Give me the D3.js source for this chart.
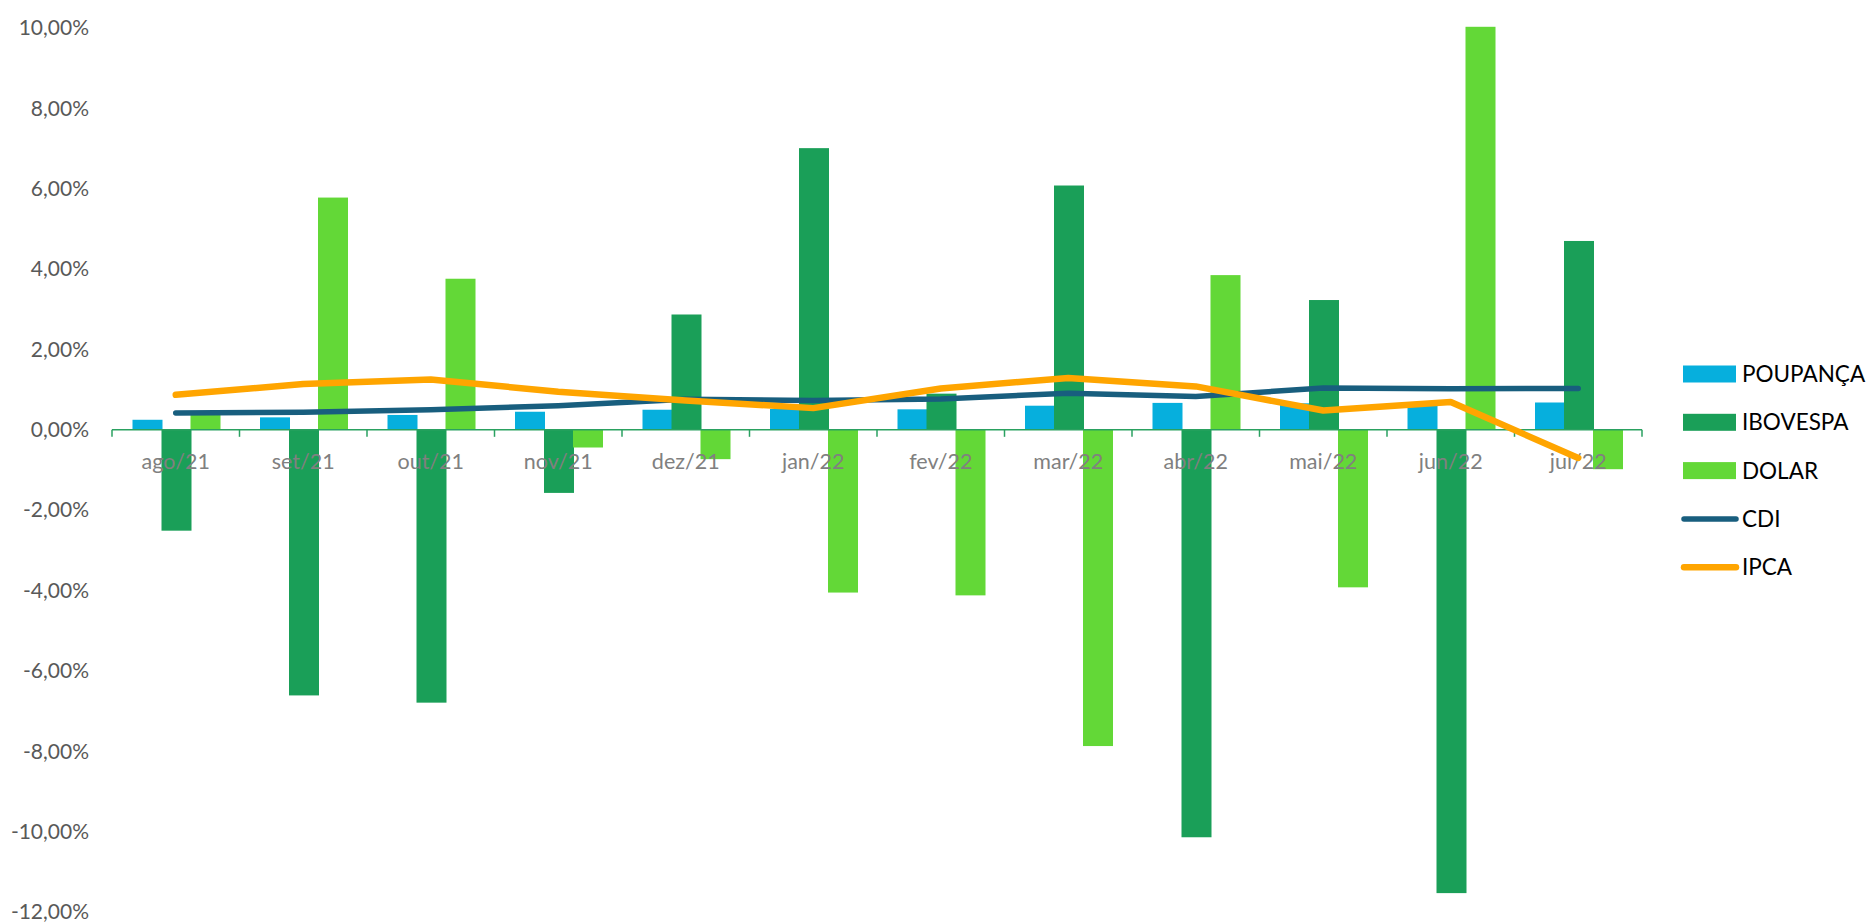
<!DOCTYPE html>
<html>
<head>
<meta charset="utf-8">
<script src="https://cdn.jsdelivr.net/npm/d3@7"></script>
<style>
  html, body { margin: 0; padding: 0; background: #fff; }
  svg { display: block; }
  text { font-family: Lato, "Open Sans", sans-serif; }
</style>
</head>
<body>
<svg id="chart" width="1869" height="924"></svg>
<script>
const categories = ["ago/21","set/21","out/21","nov/21","dez/21","jan/22","fev/22","mar/22","abr/22","mai/22","jun/22","jul/22"];
const poupanca = [0.25,0.31,0.37,0.45,0.50,0.52,0.51,0.60,0.67,0.66,0.60,0.68];
const ibovespa = [-2.51,-6.61,-6.79,-1.57,2.87,7.01,0.90,6.08,-10.14,3.23,-11.53,4.70];
const dolar = [0.42,5.78,3.76,-0.44,-0.73,-4.05,-4.12,-7.87,3.85,-3.92,10.03,-0.98];
const cdi = [0.42,0.44,0.50,0.60,0.76,0.73,0.77,0.91,0.83,1.04,1.02,1.03];
const ipca = [0.87,1.14,1.25,0.95,0.73,0.54,1.03,1.29,1.08,0.48,0.69,-0.70];
const yTicks = [-12,-10,-8,-6,-4,-2,0,2,4,6,8,10];

const barSeries = [
  {name: "POUPANÇA", values: poupanca, color: "#06AFDD"},
  {name: "IBOVESPA", values: ibovespa, color: "#1A9F58"},
  {name: "DOLAR", values: dolar, color: "#63D837"}
];
const lineSeries = [
  {name: "CDI", values: cdi, color: "#185E7E", width: 5.5},
  {name: "IPCA", values: ipca, color: "#FFA500", width: 6.5}
];

const svg = d3.select("#chart");
const plotLeft = 112, plotRight = 1642, plotTop = 28, plotBottom = 912;

const x = d3.scaleBand().domain(categories).range([plotLeft, plotRight]).paddingInner(0).paddingOuter(0);
const x1 = d3.scaleBand().domain(barSeries.map(s => s.name)).range([20.5, 107.5]).padding(0);
const y = d3.scaleLinear().domain([-12, 10]).range([plotBottom, plotTop]);

const locale = d3.formatLocale({decimal: ",", thousands: ".", grouping: [3], currency: ["R$", ""], minus: "-"});
const pct = locale.format(".2%");

// Y axis labels (no line)
const yAxis = d3.axisLeft(y).tickValues(yTicks).tickSize(0).tickPadding(0).tickFormat(d => pct(d / 100));
const gy = svg.append("g").attr("transform", "translate(89,0)").call(yAxis);
gy.select(".domain").remove();
gy.selectAll("text").attr("fill", "#595959").style("font-size", "21px").attr("font-family", "Lato, sans-serif");

// Bars
barSeries.forEach(s => {
  svg.append("g").selectAll("rect").data(s.values).join("rect")
    .attr("x", (d, i) => x(categories[i]) + x1(s.name))
    .attr("width", x1.bandwidth() + 1)
    .attr("y", d => y(Math.max(0, d)))
    .attr("height", d => Math.abs(y(d) - y(0)))
    .attr("fill", s.color);
});

// X axis line + boundary ticks
const gx = svg.append("g");
gx.append("line").attr("x1", plotLeft).attr("x2", plotRight).attr("y1", y(0)).attr("y2", y(0))
  .attr("stroke", "#2AA160").attr("stroke-width", 1.5);
const boundaries = categories.map(c => x(c)).concat([x(categories[categories.length - 1]) + x.bandwidth()]);
gx.selectAll("line.tick").data(boundaries).join("line").attr("class", "tick")
  .attr("x1", d => d).attr("x2", d => d).attr("y1", y(0)).attr("y2", y(0) + 7)
  .attr("stroke", "#2AA160").attr("stroke-width", 1.5);

// X labels
const xAxis = d3.axisBottom(x).tickSize(0).tickPadding(0);
const gxl = svg.append("g").attr("transform", `translate(0,${y(0)})`).call(xAxis);
gxl.select(".domain").remove();
gxl.selectAll("text").attr("fill", "#808080").style("font-size", "21.5px").attr("font-family", "Lato, sans-serif")
  .attr("y", 32).attr("dy", "0.35em");

// Lines
lineSeries.forEach(s => {
  const line = d3.line().x((d, i) => x(categories[i]) + x.bandwidth() / 2).y(d => y(d));
  svg.append("path").datum(s.values).attr("d", line)
    .attr("fill", "none").attr("stroke", s.color).attr("stroke-width", s.width)
    .attr("stroke-linecap", "round").attr("stroke-linejoin", "round");
});

// Legend
const legendItems = barSeries.map(s => ({name: s.name, color: s.color, type: "bar"}))
  .concat(lineSeries.map(s => ({name: s.name, color: s.color, type: "line", width: s.width})));
const legend = svg.append("g").attr("transform", "translate(1683,374)");
legendItems.forEach((it, i) => {
  const g = legend.append("g").attr("transform", `translate(0,${i * 48.3})`);
  if (it.type === "bar") {
    g.append("rect").attr("x", 0).attr("y", -8.5).attr("width", 53).attr("height", 17).attr("fill", it.color);
  } else {
    g.append("line").attr("x1", 1).attr("x2", 53).attr("y1", 0).attr("y2", 0)
      .attr("stroke", it.color).attr("stroke-width", it.width).attr("stroke-linecap", "round");
  }
  g.append("text").attr("x", 59).attr("y", 0).attr("dy", "0.36em")
    .attr("fill", "#000").style("font-size", "22.5px").text(it.name);
});
</script>
</body>
</html>
